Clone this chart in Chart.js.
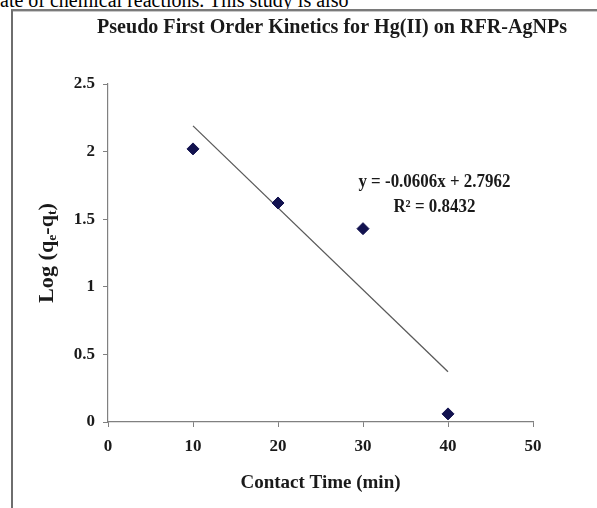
<!DOCTYPE html>
<html>
<head>
<meta charset="utf-8">
<script src="https://cdn.jsdelivr.net/npm/chart.js@4/dist/chart.umd.min.js"></script>
<style>
  html, body { margin: 0; padding: 0; background: #fff; overflow: hidden; }
  #wrap { position: relative; width: 597px; height: 508px; }
  #chart { position: absolute; left: 0; top: 0; }
  #frame {
    position: absolute; left: 11px; top: 9px; width: 600px; height: 520px;
    border-left: 2px solid #6e6e6e; border-top: 2px solid #7a7a7a;
    box-shadow: inset 0 1px 0 #c8c8c8;
    pointer-events: none;
  }
  #prose {
    position: absolute; left: 0; top: -10px; white-space: nowrap;
    font: 20px/1 "Liberation Serif", "Times New Roman", serif; color: #000;
  }
</style>
</head>
<body>
<div id="wrap">
  <div id="prose">ate of chemical reactions. This study is also</div>
  <canvas id="chart" width="597" height="508"></canvas>
  <div id="frame"></div>
</div>
<script>
// Contact time (min) and log(qe - qt) for Hg(II) uptake
const contactTime = [10, 20, 30, 40];
const logQeQt = [2.02, 1.62, 1.43, 0.06];

// Linear fit reported for the series
const fitSlope = -0.0606;
const fitIntercept = 2.7962;
const fitR2 = 0.8432;
const fitRange = [10, 40];

// Axis ticks
const xTicks = [0, 10, 20, 30, 40, 50];
const yTicks = [0, 0.5, 1, 1.5, 2, 2.5];

const chartTitle = 'Pseudo First Order Kinetics for Hg(II) on RFR-AgNPs';
const xTitle = 'Contact Time (min)';

const points = contactTime.map((x, i) => ({ x: x, y: logQeQt[i] }));
const fitLine = fitRange.map(x => ({ x: x, y: fitSlope * x + fitIntercept }));

const serif = '"Liberation Serif", "Times New Roman", serif';

// Title, rotated y label with subscripts, and the fit equation
const annotate = {
  id: 'annotate',
  afterDraw(chart) {
    const ctx = chart.ctx;
    const xs = chart.scales.x, ys = chart.scales.y;
    ctx.save();
    ctx.fillStyle = '#1a1a1a';

    // chart title, slightly condensed
    ctx.font = 'bold 20px ' + serif;
    ctx.textAlign = 'center';
    ctx.textBaseline = 'middle';
    const tw = ctx.measureText(chartTitle).width;
    const sx = 470 / tw;
    ctx.save();
    ctx.translate(332, 28);
    ctx.scale(sx, 1);
    ctx.fillText(chartTitle, 0, 0);
    ctx.restore();

    // y axis title: Log (q_e-q_t)
    const parts = [
      { t: 'Log (q', sub: false }, { t: 'e', sub: true },
      { t: '-q', sub: false }, { t: 't', sub: true }, { t: ')', sub: false }
    ];
    const mainFont = 'bold 21px ' + serif;
    const subFont = 'bold 13px ' + serif;
    let total = 0;
    parts.forEach(p => { ctx.font = p.sub ? subFont : mainFont; p.w = ctx.measureText(p.t).width; total += p.w; });
    ctx.save();
    ctx.translate(46, (ys.top + ys.bottom) / 2);
    ctx.rotate(-Math.PI / 2);
    ctx.scale(100 / total, 1);
    ctx.textAlign = 'left';
    ctx.textBaseline = 'alphabetic';
    let cx = -total / 2;
    parts.forEach(p => {
      ctx.font = p.sub ? subFont : mainFont;
      ctx.fillText(p.t, cx, p.sub ? 10 : 7);
      cx += p.w;
    });
    ctx.restore();

    // fit equation
    const eq1 = 'y = ' + fitSlope.toFixed(4) + 'x + ' + fitIntercept.toFixed(4);
    const eq2 = 'R\u00B2 = ' + fitR2.toFixed(4);
    const ex = xs.getPixelForValue(38.4);
    ctx.font = 'bold 18px ' + serif;
    ctx.textAlign = 'center';
    ctx.textBaseline = 'middle';
    const ew = ctx.measureText(eq1).width;
    const es = 152 / ew;
    ctx.save();
    ctx.translate(ex, ys.getPixelForValue(1.77));
    ctx.scale(es, 1);
    ctx.fillText(eq1, 0, 0);
    ctx.restore();
    ctx.save();
    ctx.translate(ex, ys.getPixelForValue(1.585));
    ctx.scale(es, 1);
    ctx.fillText(eq2, 0, 0);
    ctx.restore();
    ctx.restore();
  }
};

new Chart(document.getElementById('chart'), {
  type: 'scatter',
  data: {
    datasets: [
      {
        label: 'log(qe-qt)',
        data: points,
        pointStyle: 'rectRot',
        pointRadius: 6,
        pointHoverRadius: 6,
        backgroundColor: '#12124f',
        borderColor: '#12124f',
        borderWidth: 1,
        showLine: false
      },
      {
        type: 'line',
        label: 'Linear fit',
        data: fitLine,
        borderColor: '#5a5a5a',
        borderWidth: 1.3,
        pointRadius: 0,
        fill: false,
        tension: 0
      }
    ]
  },
  options: {
    responsive: false,
    animation: false,
    events: [],
    layout: { padding: { top: 84, right: 64, bottom: 0, left: 0 } },
    plugins: { legend: { display: false }, tooltip: { enabled: false }, title: { display: false } },
    scales: {
      x: {
        type: 'linear',
        min: 0, max: 50,
        afterBuildTicks: s => { s.ticks = xTicks.map(v => ({ value: v })); },
        afterFit: s => { s.height = 86; },
        ticks: { color: '#1a1a1a', font: { family: serif, size: 17, weight: 'bold' }, padding: 9, maxRotation: 0, callback: v => String(v) },
        grid: { display: true, drawOnChartArea: false, drawTicks: true, tickLength: 5, color: '#808080' },
        border: { color: '#808080', width: 1.2 },
        title: { display: true, text: xTitle, color: '#1a1a1a', font: { family: serif, size: 19, weight: 'bold' }, padding: { top: 0, bottom: 14 } }
      },
      y: {
        type: 'linear',
        min: 0, max: 2.5,
        afterBuildTicks: s => { s.ticks = yTicks.map(v => ({ value: v })); },
        afterFit: s => { s.width = 108; },
        ticks: { color: '#1a1a1a', font: { family: serif, size: 17, weight: 'bold' }, padding: 8, callback: v => String(v) },
        grid: { display: true, drawOnChartArea: false, drawTicks: true, tickLength: 5, color: '#808080' },
        border: { color: '#808080', width: 1.2 }
      }
    }
  },
  plugins: [annotate]
});
</script>
</body>
</html>
